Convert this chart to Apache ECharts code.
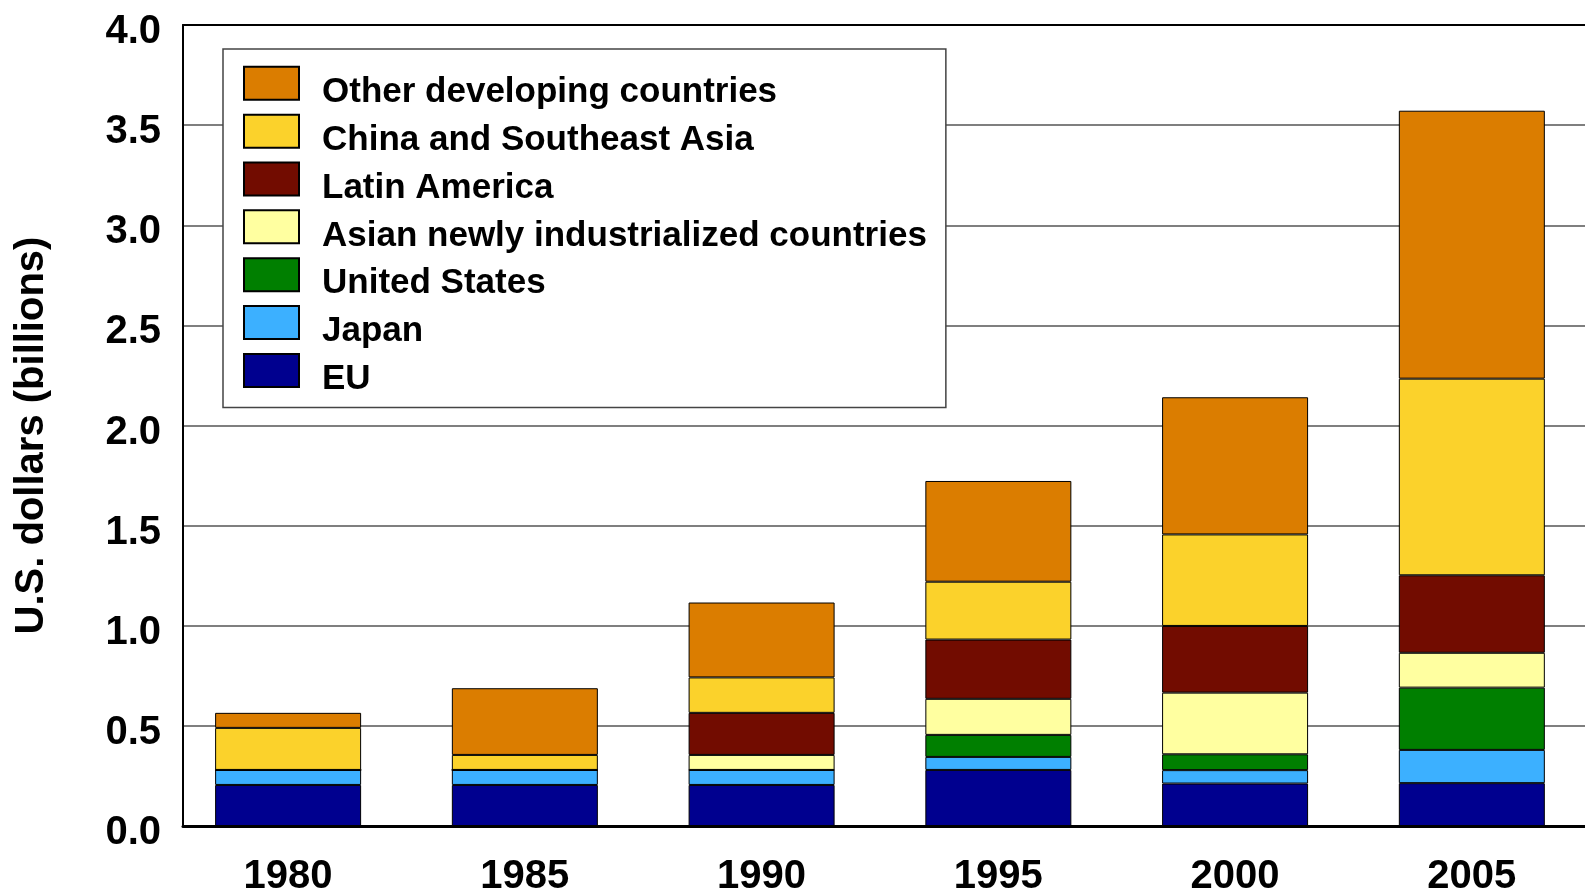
<!DOCTYPE html>
<html>
<head>
<meta charset="utf-8">
<title>Stacked bars by region</title>
<script src="https://cdn.jsdelivr.net/npm/echarts@6/dist/echarts.min.js"></script>
<style>
  html, body { margin: 0; padding: 0; background: #fff; }
  #chart { width: 1585px; height: 893px; }
</style>
</head>
<body>
<div id="chart"></div>
<script>
// Years on the horizontal axis
const years = [1980, 1985, 1990, 1995, 2000, 2005];

// Values in billions of U.S. dollars, one array per region (bottom of stack first)
const eu            = [0.205, 0.205, 0.205, 0.280, 0.212, 0.214];
const japan         = [0.075, 0.075, 0.075, 0.065, 0.067, 0.166];
const unitedStates  = [0,     0,     0,     0.110, 0.079, 0.311];
const asianNics     = [0,     0,     0.075, 0.180, 0.308, 0.174];
const latinAmerica  = [0,     0,     0.210, 0.296, 0.333, 0.387];
const chinaSeAsia   = [0.210, 0.075, 0.177, 0.289, 0.457, 0.982];
const otherDev      = [0.075, 0.333, 0.374, 0.503, 0.685, 1.338];

// Y axis tick values
const yTicks = [0, 0.5, 1.0, 1.5, 2.0, 2.5, 3.0, 3.5, 4.0];

const seriesDefs = [
  { name: 'EU', data: eu, color: '#00008f' },
  { name: 'Japan', data: japan, color: '#3cb0ff' },
  { name: 'United States', data: unitedStates, color: '#007f00' },
  { name: 'Asian newly industrialized countries', data: asianNics, color: '#ffffa0' },
  { name: 'Latin America', data: latinAmerica, color: '#720c00' },
  { name: 'China and Southeast Asia', data: chinaSeAsia, color: '#fbd22b' },
  { name: 'Other developing countries', data: otherDev, color: '#db7d00' }
];

const FONT = '"Liberation Sans", Arial, Helvetica, sans-serif';
const chart = echarts.init(document.getElementById('chart'));

chart.setOption({
  animation: false,
  backgroundColor: '#fff',
  grid: { left: 183, right: 0, top: 25, bottom: 67, outerBoundsMode: 'none', containLabel: false },
  legend: {
    data: seriesDefs.map(s => s.name).reverse(),
    orient: 'vertical',
    left: 223,
    top: 49,
    padding: [16.8, 19, 10.5, 20],
    icon: 'rect',
    itemWidth: 55,
    itemHeight: 33,
    itemGap: 3.85,
    backgroundColor: '#fff',
    borderColor: '#444',
    borderWidth: 1.5,
    borderRadius: 0,
    formatter: name => '{n|' + name + '}',
    textStyle: {
      fontFamily: FONT, fontWeight: 'bold', fontSize: 35, color: '#000',
      padding: [18, 0, 0, 18],
      rich: { n: { fontFamily: FONT, fontWeight: 'bold', fontSize: 35, lineHeight: 35, color: '#000' } }
    },
    selectedMode: false
  },
  xAxis: [
    {
      type: 'value',
      min: 1977.78,
      max: 2007.39,
      position: 'bottom',
      axisLine: { show: true, lineStyle: { color: '#000', width: 3 } },
      axisTick: { show: false },
      splitLine: { show: false },
      axisLabel: {
        customValues: years,
        formatter: v => String(v),
        fontFamily: FONT, fontWeight: 'bold', fontSize: 40, color: '#000',
        margin: 31
      }
    },
    {
      type: 'value',
      min: 1977.78,
      max: 2007.39,
      position: 'top',
      axisLine: { show: true, onZero: false, lineStyle: { color: '#000', width: 2 } },
      axisTick: { show: false },
      axisLabel: { show: false },
      splitLine: { show: false }
    }
  ],
  yAxis: {
    type: 'value',
    min: 0,
    max: 4,
    interval: 0.5,
    name: 'U.S. dollars (billions)',
    nameLocation: 'middle',
    nameGap: 131,
    nameRotate: 90,
    nameMoveOverlap: false,
    nameTextStyle: { fontFamily: FONT, fontWeight: 'bold', fontSize: 40, color: '#000', padding: [0, 20, 0, 0] },
    axisLine: { show: true, lineStyle: { color: '#000', width: 2 } },
    axisTick: { show: false },
    splitLine: { show: true, lineStyle: { color: '#555', width: 1.5 } },
    axisLabel: {
      formatter: v => yTicks.includes(v) ? '{t|' + v.toFixed(1) + '}' : '',
      rich: { t: { fontFamily: FONT, fontWeight: 'bold', fontSize: 40, color: '#000', padding: [14, 0, 0, 0] } },
      fontFamily: FONT, fontWeight: 'bold', fontSize: 40, color: '#000',
      margin: 22
    }
  },
  series: seriesDefs.map(s => ({
    name: s.name,
    type: 'bar',
    stack: 'total',
    xAxisIndex: 0,
    barWidth: 146,
    // value first so the stacked dimension is the vertical one
    data: s.data.map((v, i) => [v, years[i]]),
    encode: { x: 1, y: 0 },
    itemStyle: { color: s.color, borderColor: '#000', borderWidth: 1 },
    emphasis: { disabled: true }
  }))
});
</script>
</body>
</html>
